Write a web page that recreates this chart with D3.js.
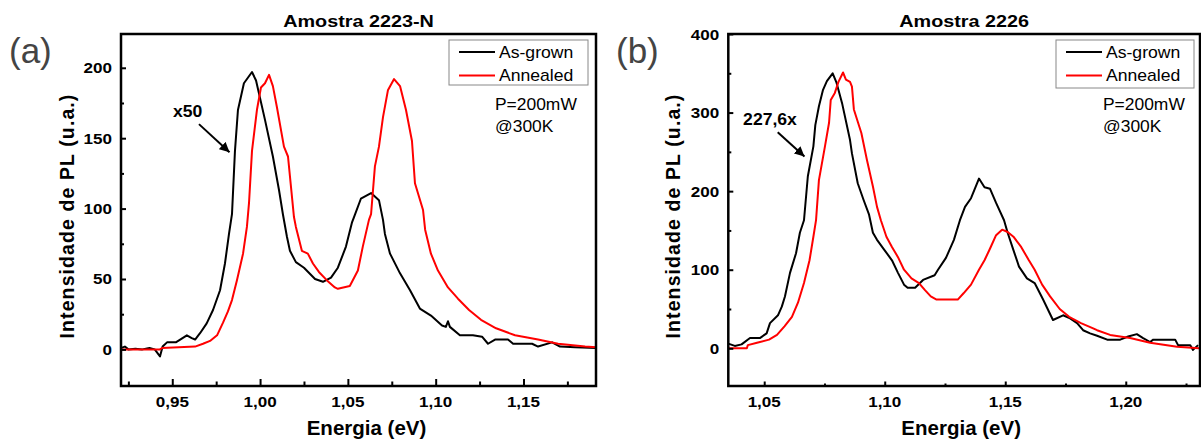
<!DOCTYPE html>
<html><head><meta charset="utf-8">
<script src="https://cdn.jsdelivr.net/npm/d3@7"></script>
<style>
html,body{margin:0;padding:0;background:#fff;}
svg{display:block;font-family:"Liberation Sans",Arial,sans-serif;}
</style></head>
<body>
<svg id="chart" width="1201" height="443"></svg>
<script>
// ---------------- DATA ----------------
// Panel (a) Amostra 2223-N : [energy eV, PL intensity]
const asGrownA = [[0.9208,1],[0.9230,2],[0.9250,0],[0.9290,0.5],[0.9330,0],[0.9370,1],[0.9400,0],[0.9430,-5],[0.9445,2],[0.9470,5],[0.9520,5],[0.9545,7],[0.9583,10],[0.9611,8],[0.9630,7],[0.9658,11.5],[0.9696,18.5],[0.9732,28],[0.9772,42],[0.9800,61],[0.9823,82],[0.9840,96],[0.9857,141],[0.9874,170],[0.9908,189],[0.9954,197],[0.9977,191],[1.0028,163],[1.0073,137],[1.0108,113],[1.0130,96],[1.0153,80],[1.0170,70],[1.0204,62],[1.0250,58],[1.0313,50],[1.0358,48],[1.0404,51],[1.0443,58],[1.0489,73],[1.0523,90],[1.0535,94],[1.0574,107],[1.0632,111],[1.0677,106],[1.0700,92],[1.0711,82],[1.0740,68],[1.0797,54],[1.0854,42],[1.0910,29],[1.0973,24],[1.1036,17],[1.1058,16],[1.1070,20],[1.1081,16],[1.1138,10],[1.1212,10],[1.1264,9],[1.1298,4],[1.1338,7],[1.1412,7],[1.1441,4],[1.1549,4],[1.1583,2],[1.1663,5],[1.1708,2],[1.1794,1.5],[1.1913,1]];
const annealedA = [[0.9208,0],[0.9430,0],[0.9442,1],[0.9630,2],[0.9675,4],[0.9715,6],[0.9755,10],[0.9789,19],[0.9817,27],[0.9840,35],[0.9868,49],[0.9903,68],[0.9925,87],[0.9937,104],[0.9954,141],[0.9982,170],[1.0005,186],[1.0028,189],[1.0051,195],[1.0073,187],[1.0096,172],[1.0136,144],[1.0159,137],[1.0193,94],[1.0204,87],[1.0238,70],[1.0272,68],[1.0301,61],[1.0335,55],[1.0381,49],[1.0426,44],[1.0443,43],[1.0511,45],[1.0557,56],[1.0585,73],[1.0620,92],[1.0632,96],[1.0654,130],[1.0677,144],[1.0700,165],[1.0728,184],[1.0763,192],[1.0797,187],[1.0831,170],[1.0865,148],[1.0882,118],[1.0928,99],[1.0940,85],[1.0973,68],[1.1013,56],[1.1070,44],[1.1127,36],[1.1190,28],[1.1258,21],[1.1344,15],[1.1452,10],[1.1583,7],[1.1697,4],[1.1851,2],[1.1913,1.5]];
// Panel (b) Amostra 2226
const asGrownB = [[1.0351,6],[1.0378,3],[1.0406,5],[1.0441,13],[1.0482,13],[1.0510,19],[1.0524,32],[1.0557,42],[1.0573,53],[1.0586,66],[1.0607,96],[1.0632,121],[1.0648,147],[1.0665,163],[1.0681,219],[1.0704,257],[1.0712,284],[1.0727,308],[1.0744,329],[1.0760,340],[1.0784,350],[1.0800,338],[1.0823,312],[1.0856,265],[1.0864,248],[1.0888,210],[1.0912,189],[1.0935,170],[1.0951,147],[1.0968,138],[1.0999,125],[1.1030,112],[1.1055,96],[1.1080,81],[1.1095,77],[1.1126,77],[1.1159,87],[1.1207,93],[1.1221,100],[1.1254,115],[1.1287,138],[1.1312,163],[1.1333,180],[1.1358,191],[1.1391,216],[1.1414,205],[1.1437,203],[1.1462,185],[1.1495,163],[1.1510,147],[1.1534,125],[1.1557,104],[1.1590,89],[1.1622,83],[1.1657,62],[1.1698,36],[1.1740,42],[1.1769,38],[1.1798,32],[1.1823,23],[1.1852,19],[1.1881,16],[1.1923,11],[1.1977,11],[1.2010,15],[1.2046,18],[1.2072,13],[1.2101,8],[1.2114,11],[1.2205,11],[1.2217,4],[1.2267,4],[1.2279,-2],[1.2300,4]];
const annealedB = [[1.0351,0],[1.0428,0],[1.0432,4],[1.0470,7],[1.0520,11],[1.0553,17],[1.0584,28],[1.0615,40],[1.0640,58],[1.0665,83],[1.0688,112],[1.0704,142],[1.0715,163],[1.0727,214],[1.0752,257],[1.0769,287],[1.0776,316],[1.0793,325],[1.0808,339],[1.0827,351],[1.0839,342],[1.0856,339],[1.0864,333],[1.0872,304],[1.0903,274],[1.0926,240],[1.0951,206],[1.0968,180],[1.0984,163],[1.1007,142],[1.1030,129],[1.1055,116],[1.1080,100],[1.1111,89],[1.1142,83],[1.1167,74],[1.1191,66],[1.1215,62],[1.1303,62],[1.1327,70],[1.1358,81],[1.1391,100],[1.1414,112],[1.1437,127],[1.1462,144],[1.1487,151],[1.1510,148],[1.1534,142],[1.1566,129],[1.1598,112],[1.1622,100],[1.1653,81],[1.1686,66],[1.1726,50],[1.1765,40],[1.1814,32],[1.1860,26],[1.1881,23],[1.1935,17],[1.2018,13],[1.2101,7],[1.2213,2],[1.2304,0]];

const xDomainA = [0.9208, 1.1913];
const yDomainA = [-26, 224];
const xMajorA = [0.95, 1.00, 1.05, 1.10, 1.15];
const xMinorA = [0.925, 0.975, 1.025, 1.075, 1.125, 1.175];
const yMajorA = [0, 50, 100, 150, 200];
const yMinorA = [25, 75, 125, 175];

const xDomainB = [1.0351, 1.2308];
const yDomainB = [-48, 400];
const xMajorB = [1.05, 1.10, 1.15, 1.20];
const xMinorB = [1.075, 1.125, 1.175, 1.225];
const yMajorB = [0, 100, 200, 300, 400];
const yMinorB = [50, 150, 250, 350];

const seriesNames = ["As-grown", "Annealed"];
const seriesColors = ["#000000", "#ff0000"];
const titles = ["Amostra 2223-N", "Amostra 2226"];
const panelLetters = ["(a)", "(b)"];
const factorLabels = ["x50", "227,6x"];
// annotation arrows in data units: [textE, textI, tailE, tailI, headE, headI]
const arrowA = [0.9587, 165, 0.9652, 160, 0.9826, 140];
const arrowB = [1.0524, 284, 1.0556, 275, 1.0667, 244];
const noteLines = ["P=200mW", "@300K"];

// ---------------- DRAW ----------------
const svg = d3.select("#chart");
const defs = svg.append("defs");
defs.append("marker").attr("id","arr").attr("viewBox","0 0 10 10")
  .attr("refX",10).attr("refY",5).attr("markerWidth",5).attr("markerHeight",5)
  .attr("markerUnits","strokeWidth").attr("orient","auto")
  .append("path").attr("d","M0,0 L10,5 L0,10 Z").attr("fill","#000");

const fmt = d => d.toFixed(2).replace(".", ",");

function stretchText(g, x, y, str, size, sx, opts = {}) {
  return g.append("text")
    .attr("transform", `translate(${x},${y}) scale(${sx},1)`)
    .attr("font-size", size)
    .attr("font-weight", opts.weight || "normal")
    .attr("fill", opts.fill || "#000")
    .attr("text-anchor", opts.anchor || "start")
    .text(str);
}

function panel(cfg) {
  const g = svg.append("g");
  const x = d3.scaleLinear().domain(cfg.xDomain).range([cfg.left, cfg.right]);
  const y = d3.scaleLinear().domain(cfg.yDomain).range([cfg.bottom, cfg.top]);
  const clipId = "clip" + cfg.idx;
  defs.append("clipPath").attr("id", clipId).append("rect")
    .attr("x", cfg.left).attr("y", cfg.top)
    .attr("width", cfg.right - cfg.left).attr("height", cfg.bottom - cfg.top);

  // data lines
  const line = d3.line().x(d => x(d[0])).y(d => y(d[1]));
  const lg = g.append("g").attr("clip-path", `url(#${clipId})`);
  cfg.series.forEach((s, i) => {
    lg.append("path").datum(s).attr("d", line)
      .attr("fill", "none").attr("stroke", seriesColors[i])
      .attr("stroke-width", 2).attr("stroke-linejoin", "round");
  });

  // bottom axis (inward ticks)
  const xAx = g.append("g").attr("transform", `translate(0,${cfg.bottom})`)
    .call(d3.axisBottom(x).tickValues(cfg.xMajor).tickSize(-cfg.xMajorLen).tickPadding(cfg.xMajorLen + 8).tickFormat(fmt));
  xAx.select(".domain").remove();
  xAx.selectAll(".tick line").attr("stroke-width", 2);
  xAx.selectAll(".tick text").remove();
  const xAxm = g.append("g").attr("transform", `translate(0,${cfg.bottom})`)
    .call(d3.axisBottom(x).tickValues(cfg.xMinor).tickSize(-cfg.xMinorLen).tickFormat(""));
  xAxm.select(".domain").remove();
  xAxm.selectAll(".tick line").attr("stroke-width", 2);
  cfg.xMajor.forEach(v => {
    stretchText(g, x(v), cfg.bottom + 21, fmt(v), 15.5, 1.1, {weight: "bold", anchor: "middle"});
  });

  // left axis (inward ticks)
  const yAx = g.append("g").attr("transform", `translate(${cfg.left},0)`)
    .call(d3.axisLeft(y).tickValues(cfg.yMajor).tickSize(-5).tickFormat(""));
  yAx.select(".domain").remove();
  yAx.selectAll(".tick line").attr("stroke-width", 2);
  const yAxm = g.append("g").attr("transform", `translate(${cfg.left},0)`)
    .call(d3.axisLeft(y).tickValues(cfg.yMinor).tickSize(-3).tickFormat(""));
  yAxm.select(".domain").remove();
  yAxm.selectAll(".tick line").attr("stroke-width", 2);
  cfg.yMajor.forEach(v => {
    stretchText(g, cfg.left - 9, y(v) + 5.5, String(v), 15.5, 1.1, {weight: "bold", anchor: "end"});
  });

  // frame
  g.append("rect").attr("x", cfg.left).attr("y", cfg.top)
    .attr("width", cfg.right - cfg.left).attr("height", cfg.bottom - cfg.top)
    .attr("fill", "none").attr("stroke", "#000").attr("stroke-width", 2.5);

  // titles
  const cx = (cfg.left + cfg.right) / 2;
  stretchText(g, cx, 26.5, cfg.title, 16.5, 1.2, {weight: "bold", anchor: "middle"});
  stretchText(g, cx + cfg.xTitleShift, 435, "Energia (eV)", 20.5, 1.0, {weight: "bold", anchor: "middle"});
  g.append("text")
    .attr("transform", `translate(${cfg.yTitleX},${(cfg.top + cfg.bottom) / 2 + 6}) rotate(-90)`)
    .attr("text-anchor", "middle").attr("font-size", 19.5).attr("font-weight", "bold")
    .attr("letter-spacing", 1.1)
    .text("Intensidade de PL (u.a.)");
  g.append("text").attr("x", cfg.letterX).attr("y", 63)
    .attr("font-size", 35).attr("fill", "#444").text(cfg.letter);

  // legend
  const L = cfg.legend;
  g.append("rect").attr("x", L.x).attr("y", L.y).attr("width", L.w).attr("height", L.h)
    .attr("fill", "#fff").attr("stroke", "#888").attr("stroke-width", 1);
  seriesNames.forEach((n, i) => {
    const ly = L.y + 12 + i * 23.5;
    g.append("line").attr("x1", L.x + 10).attr("x2", L.x + 46)
      .attr("y1", ly).attr("y2", ly).attr("stroke", seriesColors[i]).attr("stroke-width", 2);
    stretchText(g, L.x + 50, ly + 5.7, n, 16, 1.1);
  });
  noteLines.forEach((t, i) => {
    stretchText(g, L.x + cfg.noteDx, 110 + i * 22, t, 16, 1.09);
  });

  // annotation
  const a = cfg.arrow;
  stretchText(g, x(a[0]), y(a[1]), cfg.factor, 16, 1.1, {weight: "bold", anchor: "middle"});
  g.append("line").attr("x1", x(a[2])).attr("y1", y(a[3]))
    .attr("x2", x(a[4])).attr("y2", y(a[5]))
    .attr("stroke", "#000").attr("stroke-width", 2).attr("marker-end", "url(#arr)");
}

panel({idx: 0, left: 121, right: 596, top: 34, bottom: 386,
  xDomain: xDomainA, yDomain: yDomainA, xMajor: xMajorA, xMinor: xMinorA,
  yMajor: yMajorA, yMinor: yMinorA, xMajorLen: 7, xMinorLen: 4.5,
  series: [asGrownA, annealedA], title: titles[0], letter: panelLetters[0], letterX: 9,
  yTitleX: 74, xTitleShift: 8, factor: factorLabels[0], arrow: arrowA,
  legend: {x: 449, y: 40, w: 139, h: 45}, noteDx: 46});

panel({idx: 1, left: 728.3, right: 1200, top: 34, bottom: 386,
  xDomain: xDomainB, yDomain: yDomainB, xMajor: xMajorB, xMinor: xMinorB,
  yMajor: yMajorB, yMinor: yMinorB, xMajorLen: 4.5, xMinorLen: 2.5,
  series: [asGrownB, annealedB], title: titles[1], letter: panelLetters[1], letterX: 616,
  yTitleX: 680, xTitleShift: -3, factor: factorLabels[1], arrow: arrowB,
  legend: {x: 1056, y: 40, w: 138, h: 48}, noteDx: 47});
</script>
</body></html>
